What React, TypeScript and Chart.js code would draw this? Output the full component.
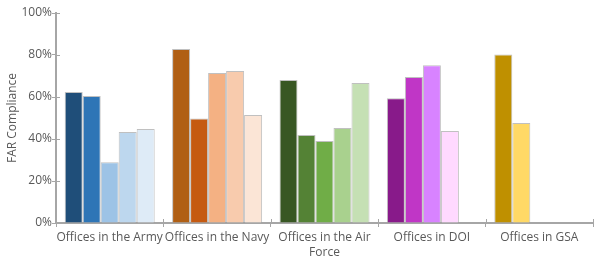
import React, { useEffect, useRef } from "react";
import { Chart, registerables } from "chart.js";

Chart.register(...registerables);

const categories: (string | string[])[] = [
  "Offices in the Army",
  "Offices in the Navy",
  ["Offices in the Air", "Force"],
  "Offices in DOI",
  "Offices in GSA",
];

const slot1 = [62.4, 82.9, 68.1, 59.4, 80.2];
const slot2 = [60.5, 49.8, 41.9, 69.5, 47.6];
const slot3 = [28.9, 71.4, 39.0, 75.1, null];
const slot4 = [43.3, 72.4, 45.2, 43.8, null];
const slot5 = [44.8, 51.4, 66.7, null, null];

const colors1 = ["#1F4E79", "#B05F14", "#385723", "#881A8A", "#BF9000"];
const colors2 = ["#2E75B6", "#C55A11", "#548235", "#C036C6", "#FFD966"];
const colors3 = ["#9DC3E6", "#F4B183", "#70AD47", "#D883FF", "#FFFFFF"];
const colors4 = ["#BDD7EE", "#F8CBAD", "#A9D18E", "#FFD9FF", "#FFFFFF"];
const colors5 = ["#DEEBF7", "#FBE5D6", "#C5E0B4", "#FFFFFF", "#FFFFFF"];

const yTicks = [0, 20, 40, 60, 80, 100];

const AXIS = "#A6A6A6";
const TEXT = "#595959";
const FONT = "'Open Sans', sans-serif";

const innerTicks = {
  id: "innerTicks",
  afterDraw(chart: any) {
    const ctx = chart.ctx;
    const x = chart.scales.x;
    const y = chart.scales.y;
    ctx.save();
    ctx.strokeStyle = AXIS;
    ctx.lineWidth = 1;
    ctx.beginPath();
    yTicks.forEach((v) => {
      const py = Math.round(y.getPixelForValue(v)) + 0.5;
      ctx.moveTo(x.left, py);
      ctx.lineTo(x.left + 4, py);
    });
    for (let i = 0; i <= categories.length; i++) {
      const px = Math.round(x.getPixelForValue(i - 0.5)) + 0.5;
      ctx.moveTo(px, y.bottom);
      ctx.lineTo(px, y.bottom - 4);
    }
    ctx.stroke();
    ctx.restore();
  },
};

export default function App() {
  const ref = useRef<HTMLCanvasElement>(null);
  useEffect(() => {
    if (!ref.current) return;
    const slots = [slot1, slot2, slot3, slot4, slot5];
    const cols = [colors1, colors2, colors3, colors4, colors5];
    const chart = new Chart(ref.current, {
      type: "bar",
      data: {
        labels: categories as any,
        datasets: slots.map((d, i) => ({
          label: "Slot " + (i + 1),
          data: d as any,
          backgroundColor: cols[i],
          borderColor: "rgba(140,140,140,0.55)",
          borderWidth: { top: 1, left: 1, right: 1, bottom: 0 } as any,
          categoryPercentage: 0.838,
          barPercentage: 1,
        })),
      },
      plugins: [innerTicks],
      options: {
        animation: false,
        responsive: false,
        maintainAspectRatio: false,
        layout: { padding: { top: 13, right: 7, left: 0, bottom: 0 } },
        plugins: {
          legend: { display: false },
          tooltip: { enabled: false },
        },
        scales: {
          x: {
            grid: {
              display: true,
              drawOnChartArea: false,
              drawTicks: true,
              tickLength: 4,
              color: AXIS,
              offset: true,
            },
            border: { display: true, color: AXIS, width: 2 },
            ticks: {
              color: TEXT,
              font: { family: FONT, size: 12, lineHeight: 1.25 },
              padding: 3,
              maxRotation: 0,
              autoSkip: false,
            },
            afterFit: (s: any) => {
              s.height = 47;
            },
          },
          y: {
            min: 0,
            max: 100,
            afterBuildTicks: (s: any) => {
              s.ticks = yTicks.map((v) => ({ value: v }));
            },
            grid: {
              display: true,
              drawOnChartArea: false,
              drawTicks: true,
              tickLength: 4,
              color: AXIS,
            },
            border: { display: true, color: AXIS, width: 2 },
            ticks: {
              color: TEXT,
              font: { family: FONT, size: 12 },
              padding: 0,
              callback: (v: any) => v + "%",
            },
            title: {
              display: true,
              text: "FAR Compliance",
              color: TEXT,
              font: { family: FONT, size: 12 },
              padding: { top: 5, bottom: 0 },
            },
            afterFit: (s: any) => {
              s.width = 56;
            },
          },
        },
      },
    });
    return () => chart.destroy();
  }, []);
  return (
    <div style={{ position: "absolute", left: 0, top: 0, width: 600, height: 270, background: "#fff" }}>
      <canvas ref={ref} width={600} height={270} style={{ width: 600, height: 270 }} />
    </div>
  );
}
